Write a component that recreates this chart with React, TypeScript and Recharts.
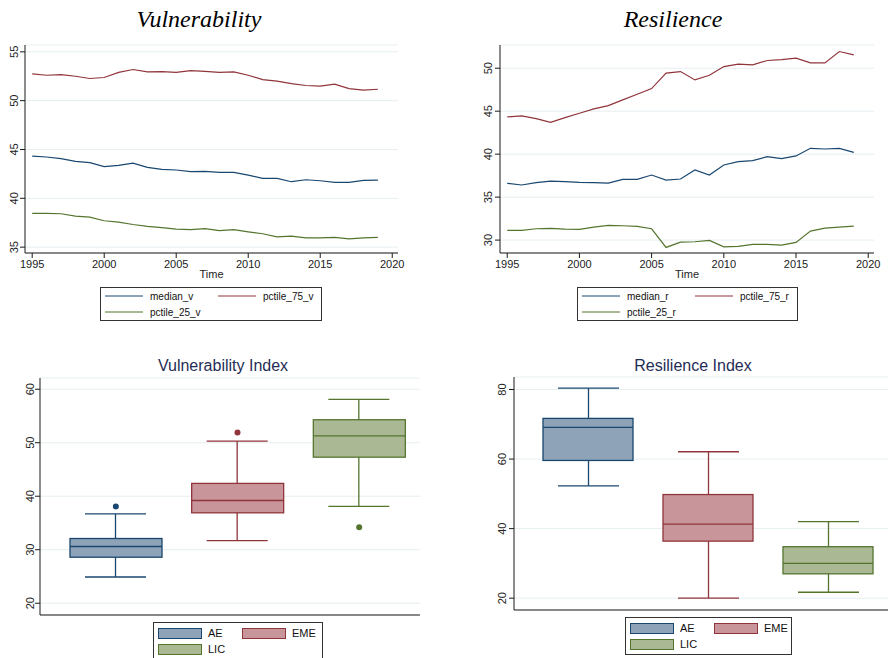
import React from 'react';
import {
  LineChart,
  Line,
  XAxis,
  YAxis,
  CartesianGrid,
  Legend,
  ComposedChart,
  Bar,
  Scatter,
  Cell,
} from 'recharts';

// ---- line panels (top row) ----
const YEARS = [
  1995, 1996, 1997, 1998, 1999, 2000, 2001, 2002, 2003, 2004, 2005, 2006, 2007,
  2008, 2009, 2010, 2011, 2012, 2013, 2014, 2015, 2016, 2017, 2018, 2019,
];
const X_TICKS = [1995, 2000, 2005, 2010, 2015, 2020];

const MEDIAN_V = [44.33, 44.23, 44.06, 43.79, 43.65, 43.24, 43.37, 43.6, 43.17, 42.97, 42.9, 42.73, 42.76, 42.66, 42.66, 42.38, 42.04, 42.04, 41.7, 41.9, 41.8, 41.63, 41.63, 41.84, 41.87];
const P75_V = [52.74, 52.6, 52.67, 52.5, 52.27, 52.37, 52.9, 53.19, 52.95, 52.98, 52.9, 53.08, 53.0, 52.9, 52.95, 52.6, 52.16, 52.0, 51.75, 51.55, 51.48, 51.7, 51.24, 51.07, 51.17];
const P25_V = [38.45, 38.45, 38.42, 38.18, 38.08, 37.7, 37.56, 37.32, 37.12, 37.0, 36.85, 36.8, 36.9, 36.7, 36.8, 36.57, 36.37, 36.06, 36.13, 35.95, 35.95, 35.99, 35.85, 35.95, 36.0];

const MEDIAN_R = [36.6, 36.41, 36.68, 36.87, 36.8, 36.72, 36.68, 36.64, 37.07, 37.07, 37.57, 36.99, 37.11, 38.16, 37.57, 38.74, 39.13, 39.24, 39.71, 39.48, 39.79, 40.68, 40.6, 40.68, 40.21];
const P75_R = [44.33, 44.45, 44.14, 43.7, 44.25, 44.76, 45.26, 45.65, 46.31, 46.97, 47.63, 49.42, 49.61, 48.64, 49.18, 50.19, 50.47, 50.39, 50.9, 51.0, 51.17, 50.62, 50.62, 51.94, 51.55];
const P25_R = [31.13, 31.13, 31.32, 31.36, 31.28, 31.24, 31.51, 31.71, 31.67, 31.59, 31.32, 29.15, 29.77, 29.81, 29.96, 29.22, 29.26, 29.5, 29.5, 29.42, 29.73, 31.05, 31.4, 31.51, 31.63];

const V_TICKS = [35, 40, 45, 50, 55];
const R_TICKS = [30, 35, 40, 45, 50];

// ---- box panels (bottom row) ----
const GROUPS = ['AE', 'EME', 'LIC'];

const VULN_MIN = [24.9, 31.7, 38.1];
const VULN_Q1 = [28.6, 36.9, 47.3];
const VULN_MED = [30.6, 39.2, 51.3];
const VULN_Q3 = [32.1, 42.4, 54.3];
const VULN_MAX = [36.7, 50.3, 58.1];
const VULN_OUT = [38.1, 51.9, 34.2];

const RES_MIN = [52.3, 20.0, 21.7];
const RES_Q1 = [59.6, 36.4, 27.0];
const RES_MED = [69.1, 41.3, 30.0];
const RES_Q3 = [71.7, 49.8, 34.8];
const RES_MAX = [80.4, 62.1, 42.0];

const VI_TICKS = [20, 30, 40, 50, 60];
const RI_TICKS = [20, 40, 60, 80];

const LINE_COLORS = ['#1a476f', '#90353b', '#55752f'];
const BOX_FILL = ['#8ea3b8', '#c8969a', '#aab994'];
const BOX_STROKE = ['#1a476f', '#90353b', '#55752f'];
const GRID = '#e6eff1';
const AXIS = '#1a1a1a';
const TITLE_NAVY = '#1f2d56';

const vulnLines = YEARS.map((year, i) => ({
  year,
  median_v: MEDIAN_V[i],
  pctile_75_v: P75_V[i],
  pctile_25_v: P25_V[i],
}));
const resLines = YEARS.map((year, i) => ({
  year,
  median_r: MEDIAN_R[i],
  pctile_75_r: P75_R[i],
  pctile_25_r: P25_R[i],
}));

const makeBoxes = (mn: number[], q1: number[], md: number[], q3: number[], mx: number[], out?: number[]) =>
  GROUPS.map((name, i) => ({
    name,
    whisker: [mn[i], mx[i]],
    box: [q1[i], q3[i]],
    q1: q1[i],
    median: md[i],
    q3: q3[i],
    outlier: out ? out[i] : null,
  }));

const vulnBoxes = makeBoxes(VULN_MIN, VULN_Q1, VULN_MED, VULN_Q3, VULN_MAX, VULN_OUT);
const resBoxes = makeBoxes(RES_MIN, RES_Q1, RES_MED, RES_Q3, RES_MAX);

const RotatedTick = (props: any) => {
  const { x, y, payload } = props;
  return (
    <text x={x} y={y} transform={`rotate(-90 ${x} ${y})`} textAnchor="middle" fontSize={11} fill="#222">
      {payload.value}
    </text>
  );
};

// legend keeps the series order (recharts sorts payload by name otherwise)
const LineLegend = ({ keys }: { keys: string[] }) => (
  <div
    style={{
      border: '1px solid #333',
      background: '#fff',
      padding: '0 4px 0 4px',
      display: 'grid',
      gridTemplateColumns: '113px auto',
      fontSize: 10,
      color: '#111',
    }}
  >
    {keys.map((k, i) => (
      <div key={k} style={{ display: 'flex', alignItems: 'center', height: 16 }}>
        <svg width={38} height={4} style={{ marginRight: 7 }}>
          <line x1={0} x2={38} y1={2} y2={2} stroke={LINE_COLORS[i]} strokeWidth={1} />
        </svg>
        <span>{k}</span>
      </div>
    ))}
  </div>
);

const BoxLegend = () => (
  <div
    style={{
      border: '1px solid #333',
      background: '#fff',
      padding: '2px 4px 2px 4px',
      display: 'grid',
      gridTemplateColumns: '84px auto',
      fontSize: 11,
      color: '#111',
    }}
  >
    {GROUPS.map((g, i) => (
      <div key={g} style={{ display: 'flex', alignItems: 'center', height: 16 }}>
        <div
          style={{
            width: 42,
            height: 9,
            background: BOX_FILL[i],
            border: `1px solid ${BOX_STROKE[i]}`,
            marginRight: 6,
          }}
        />
        <span>{g}</span>
      </div>
    ))}
  </div>
);

const WhiskerShape = (props: any) => {
  const { x, y, width, height, index } = props;
  const top = Math.min(y, y + height);
  const bottom = Math.max(y, y + height);
  const cx = x + width / 2;
  return (
    <g stroke={BOX_STROKE[index]} strokeWidth={1.3}>
      <line x1={cx} x2={cx} y1={top} y2={bottom} />
      <line x1={x} x2={x + width} y1={top} y2={top} />
      <line x1={x} x2={x + width} y1={bottom} y2={bottom} />
    </g>
  );
};

const BoxShape = (props: any) => {
  const { x, y, width, height, index, payload } = props;
  const top = Math.min(y, y + height);
  const h = Math.abs(height);
  // median sits inside the box, linear between q3 (top) and q1 (bottom)
  const medY = top + (h * (payload.q3 - payload.median)) / (payload.q3 - payload.q1);
  return (
    <g>
      <rect x={x} y={top} width={width} height={h} fill={BOX_FILL[index]} stroke={BOX_STROKE[index]} strokeWidth={1.3} />
      <line x1={x} x2={x + width} y1={medY} y2={medY} stroke={BOX_STROKE[index]} strokeWidth={1.3} />
    </g>
  );
};

const OutlierDot = (props: any) => <circle cx={props.cx} cy={props.cy} r={3} fill={props.fill} />;

type LinePanelProps = {
  data: any[];
  keys: string[];
  yDomain: [number, number];
  yTicks: number[];
  yWidth: number;
  width: number;
  marginRight: number;
  legendLeft: number;
  legendWidth: number;
  tickMargin: number;
};

function LinePanel(p: LinePanelProps) {
  return (
    <LineChart width={p.width} height={330} data={p.data} margin={{ top: 45, right: p.marginRight, left: 0, bottom: 47 }}>
      <CartesianGrid vertical={false} stroke={GRID} />
      <XAxis
        type="number"
        dataKey="year"
        domain={[1994.5, 2020.4]}
        allowDataOverflow
        ticks={X_TICKS}
        interval={0}
        tickSize={5}
        tickMargin={2}
        stroke={AXIS}
        tick={{ fontSize: 11, fill: '#222' }}
        height={30}
        label={{ value: 'Time', position: 'insideBottom', offset: 5, fontSize: 11, fill: '#222' }}
      />
      <YAxis
        type="number"
        domain={p.yDomain}
        allowDataOverflow
        ticks={p.yTicks}
        interval={0}
        width={p.yWidth}
        tickSize={5}
        tickMargin={p.tickMargin}
        stroke={AXIS}
        tick={<RotatedTick />}
      />
      {p.keys.map((k, i) => (
        <Line key={k} dataKey={k} name={k} stroke={LINE_COLORS[i]} strokeWidth={1.2} dot={false} isAnimationActive={false} />
      ))}
      <Legend
        verticalAlign="middle"
        align="center"
        layout="horizontal"
        wrapperStyle={{ left: p.legendLeft, top: 287, width: p.legendWidth }}
        content={() => <LineLegend keys={p.keys} />}
      />
    </LineChart>
  );
}

type BoxPanelProps = {
  data: any[];
  yDomain: [number, number];
  yTicks: number[];
  yWidth: number;
  width: number;
  margin: { top: number; right: number; left: number; bottom: number };
  boxSize: number;
  capSize: number;
  padLeft: number;
  tickMargin: number;
  legendLeft: number;
  legendTop: number;
  legendWidth: number;
  outliers: boolean;
};

function BoxPanel(p: BoxPanelProps) {
  return (
    <ComposedChart width={p.width} height={318} data={p.data} margin={p.margin}>
      <CartesianGrid vertical={false} stroke={GRID} xAxisId="box" />
      <XAxis
        xAxisId="box"
        dataKey="name"
        type="category"
        padding={{ left: p.padLeft, right: 0 }}
        tick={false}
        tickLine={false}
        height={1}
        stroke={AXIS}
      />
      <XAxis xAxisId="wh" dataKey="name" type="category" padding={{ left: p.padLeft, right: 0 }} hide />
      <YAxis
        type="number"
        domain={p.yDomain}
        allowDataOverflow
        ticks={p.yTicks}
        interval={0}
        width={p.yWidth}
        tickSize={5}
        tickMargin={p.tickMargin}
        stroke={AXIS}
        tick={<RotatedTick />}
      />
      <Bar xAxisId="wh" dataKey="whisker" barSize={p.capSize} shape={WhiskerShape} isAnimationActive={false} />
      <Bar xAxisId="box" dataKey="box" barSize={p.boxSize} shape={BoxShape} isAnimationActive={false} />
      {p.outliers && (
        <Scatter xAxisId="box" dataKey="outlier" shape={OutlierDot} isAnimationActive={false}>
          {GROUPS.map((g, i) => (
            <Cell key={g} fill={BOX_STROKE[i]} />
          ))}
        </Scatter>
      )}
      <Legend
        verticalAlign="middle"
        align="center"
        layout="horizontal"
        wrapperStyle={{ left: p.legendLeft, top: p.legendTop, width: p.legendWidth }}
        content={BoxLegend}
      />
    </ComposedChart>
  );
}

const serifTitle: React.CSSProperties = {
  position: 'absolute',
  top: 7,
  fontFamily: '"Liberation Serif", "Times New Roman", serif',
  fontStyle: 'italic',
  fontSize: 24,
  lineHeight: '24px',
  color: '#000',
  transform: 'translateX(-50%)',
  whiteSpace: 'nowrap',
};

const sansTitle: React.CSSProperties = {
  position: 'absolute',
  top: 358,
  fontSize: 16,
  lineHeight: '16px',
  color: TITLE_NAVY,
  transform: 'translateX(-50%)',
  whiteSpace: 'nowrap',
};

export default function App() {
  return (
    <div
      style={{
        position: 'absolute',
        left: 0,
        top: 0,
        width: 888,
        height: 658,
        overflow: 'hidden',
        background: '#fff',
        fontFamily: '"Liberation Sans", Arial, sans-serif',
      }}
    >
      <div style={{ ...serifTitle, left: 199 }}>Vulnerability</div>
      <div style={{ ...serifTitle, left: 673 }}>Resilience</div>
      <div style={{ ...sansTitle, left: 223 }}>Vulnerability Index</div>
      <div style={{ ...sansTitle, left: 693 }}>Resilience Index</div>

      <div style={{ position: 'absolute', left: 0, top: 0 }}>
        <LinePanel
          data={vulnLines}
          keys={['median_v', 'pctile_75_v', 'pctile_25_v']}
          yDomain={[34.4, 55.7]}
          yTicks={V_TICKS}
          yWidth={25}
          width={420}
          marginRight={22}
          legendLeft={100}
          legendWidth={222}
          tickMargin={2}
        />
      </div>
      <div style={{ position: 'absolute', left: 450, top: 0 }}>
        <LinePanel
          data={resLines}
          keys={['median_r', 'pctile_75_r', 'pctile_25_r']}
          yDomain={[28.5, 52.7]}
          yTicks={R_TICKS}
          yWidth={50}
          width={438}
          marginRight={14}
          legendLeft={127}
          legendWidth={221}
          tickMargin={3}
        />
      </div>
      <div style={{ position: 'absolute', left: 0, top: 340 }}>
        <BoxPanel
          data={vulnBoxes}
          yDomain={[17.8, 62.1]}
          yTicks={VI_TICKS}
          yWidth={40}
          width={420}
          margin={{ top: 38, right: 0, left: 0, bottom: 42 }}
          boxSize={92}
          capSize={61}
          padLeft={15}
          tickMargin={1}
          legendLeft={153}
          legendTop={282}
          legendWidth={170}
          outliers
        />
      </div>
      <div style={{ position: 'absolute', left: 450, top: 340 }}>
        <BoxPanel
          data={resBoxes}
          yDomain={[16.6, 83.6]}
          yTicks={RI_TICKS}
          yWidth={64}
          width={438}
          margin={{ top: 37, right: 0, left: 0, bottom: 47 }}
          boxSize={90}
          capSize={61}
          padLeft={14}
          tickMargin={3}
          legendLeft={175}
          legendTop={277}
          legendWidth={167}
          outliers={false}
        />
      </div>
    </div>
  );
}
